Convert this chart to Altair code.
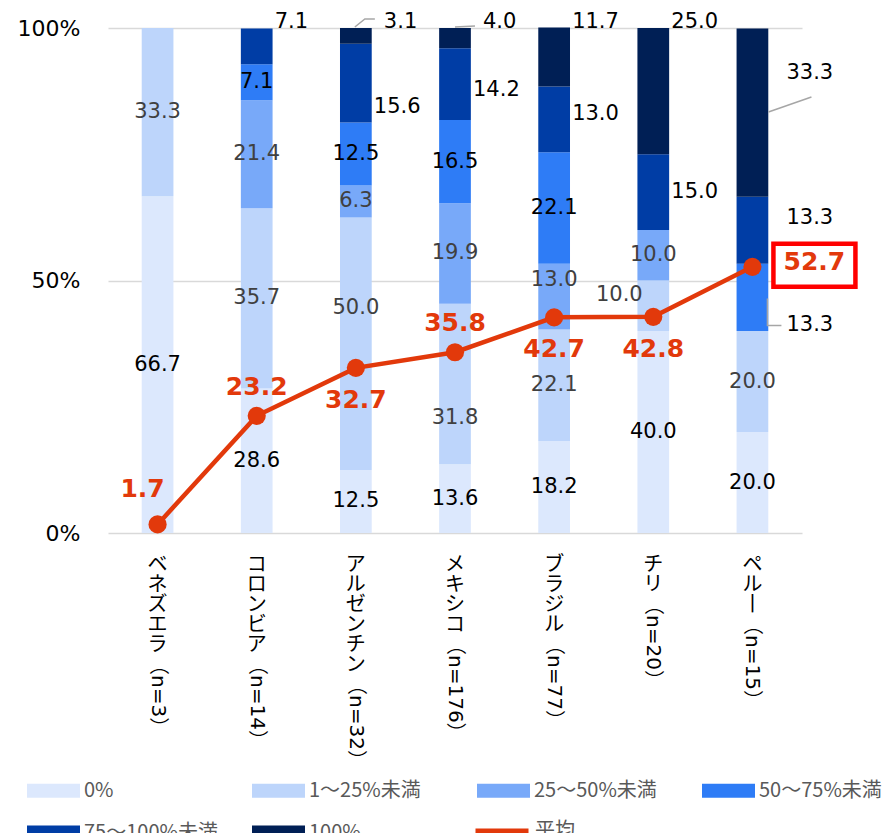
import altair as alt
import pandas as pd

# ---------------- data ----------------
countries = ["ベネズエラ", "コロンビア", "アルゼンチン", "メキシコ", "ブラジル", "チリ", "ペルー"]
n_resp = [3, 14, 32, 176, 77, 20, 15]
cats = ["0%", "1～25%未満", "25～50%未満", "50～75%未満", "75～100%未満", "100%"]
v_0 = [66.7, 28.6, 12.5, 13.6, 18.2, 40.0, 20.0]
v_1_25 = [33.3, 35.7, 50.0, 31.8, 22.1, 10.0, 20.0]
v_25_50 = [0.0, 21.4, 6.3, 19.9, 13.0, 10.0, 0.0]
v_50_75 = [0.0, 7.1, 12.5, 16.5, 22.1, 0.0, 13.3]
v_75_100 = [0.0, 7.1, 15.6, 14.2, 13.0, 15.0, 13.3]
v_100 = [0.0, 0.0, 3.1, 4.0, 11.7, 25.0, 33.3]
avg = [1.7, 23.2, 32.7, 35.8, 42.7, 42.8, 52.7]
avg_name = "平均"
series = [v_0, v_1_25, v_25_50, v_50_75, v_75_100, v_100]

# ---------------- styles / layout ----------------
colors = ["#DCE8FD", "#BDD5FB", "#78A9F9", "#2E7CF6", "#003DA5", "#001F55"]
RED = "#E2390B"
PLOT_W, PLOT_H = 694, 505
NUM_FONT = "DejaVu Sans"
JP_FONT = "Noto Sans CJK JP"
MIX_FONT = "DejaVu Sans, Noto Sans CJK JP"

# segment label placement (style only)
label_place = {
    ("チリ", "1～25%未満"): "left",
    ("アルゼンチン", "100%"): "right2",
    ("メキシコ", "100%"): "right2",
    ("ペルー", "50～75%未満"): "far",
    ("ペルー", "75～100%未満"): "far",
    ("ペルー", "100%"): "far",
}
keep_mid = {("ペルー", "100%")}
label_nudge_px = {  # positive = down
    ("アルゼンチン", "1～25%未満"): -36,
    ("メキシコ", "1～25%未満"): 34,
    ("ブラジル", "25～50%未満"): -17,
    ("チリ", "1～25%未満"): -11,
    ("アルゼンチン", "75～100%未満"): 24,
    ("メキシコ", "75～100%未満"): 6,
    ("ブラジル", "75～100%未満"): -5,
    ("ペルー", "100%"): -40,
    ("ペルー", "75～100%未満"): -12,
    ("ペルー", "50～75%未満"): 28,
}
place_dx = {"in": (0, "center"), "left": (-34, "center"), "right": (18, "left"),
            "right2": (28, "left"), "far": (34, "left")}
TOP_LIFT_PX = 6
avg_place = ["ul", "up", "down", "up", "down", "down", "box"]
avg_dxdy = {"ul": (-15, -35), "up": (0, -29), "down": (0, 32), "box": (62, -5)}

# ---------------- tables ----------------
bar_rows = []
lab_rows = []
for i, c in enumerate(countries):
    vals = [s[i] for s in series]
    top_j = max(j for j in range(len(cats)) if vals[j] > 0)
    cum = 0.0
    for j, cat in enumerate(cats):
        v = vals[j]
        bar_rows.append({"country": c, "cat": cat, "order": j, "value": v})
        if v <= 0:
            continue
        mid = cum + v / 2
        cum += v
        place = label_place.get((c, cat), "in" if j < 4 else "right")
        if j == top_j and j >= 4 and (c, cat) not in keep_mid:
            ypos = 100 + TOP_LIFT_PX * 100 / PLOT_H
        else:
            ypos = mid
        ypos -= label_nudge_px.get((c, cat), 0) * 100 / PLOT_H
        lab_rows.append({"country": c, "cat": cat, "value": v, "ypos": ypos,
                         "place": place,
                         "tcol": "#404040" if j in (1, 2) else "#000000"})
bars_df = pd.DataFrame(bar_rows)
lab_df = pd.DataFrame(lab_rows)

avg_df = pd.DataFrame({"country": countries, "avg": avg, "series": avg_name,
                       "place": avg_place})

kana_lh = 20
xl_rows = []
for c, n in zip(countries, n_resp):
    xl_rows.append({"country": c,
                    "kana": "\n".join(c.replace("ー", "丨")),
                    "npart": f"（n={n}）",
                    "ny": 527 + len(c) * kana_lh})
xl_df = pd.DataFrame(xl_rows)

# leader lines (anchored on data positions, shape is style)
peru = countries.index("ペルー")
leader_df = pd.DataFrame([
    {"country": "アルゼンチン", "y": 100.0, "path": "M-0.1,-0.1L0.9,-0.9H1.9"},
    {"country": "メキシコ", "y": 100.0, "path": "M0,-0.1L2,-0.2"},
    {"country": "ペルー", "y": 100 - v_100[peru] / 2, "path": "M1.6,0L5.9,-1.5"},
    {"country": "ペルー", "y": sum(s[peru] for s in series[:3]) + v_50_75[peru] / 2,
     "path": "M1.5,0.1V2.8H2.9"},
])

# ---------------- encodings ----------------
xscale = alt.Scale(domain=countries, paddingInner=0.68, paddingOuter=0.34)
X = alt.X("country:N", scale=xscale, sort=countries, axis=None)
yscale = alt.Scale(domain=[0, 100], nice=False, zero=True)

bars = alt.Chart(bars_df).mark_bar().encode(
    x=alt.X("country:N", scale=xscale, sort=countries,
            axis=alt.Axis(labels=False, ticks=False, domain=False, title=None, grid=False)),
    y=alt.Y("value:Q", stack="zero", scale=yscale,
            axis=alt.Axis(values=[0, 50, 100], labelExpr="datum.value + '%'", title=None,
                          ticks=False, tickSize=0, domain=False, grid=True,
                          gridColor="#D9D9D9", gridWidth=1.5, labelFontSize=22,
                          labelFont=NUM_FONT, labelColor="#000000", labelPadding=28)),
    color=alt.Color("cat:N", scale=alt.Scale(domain=cats, range=colors),
                    legend=alt.Legend(title=None, orient="none", legendX=-81, legendY=736,
                                      direction="horizontal", columns=4, gridAlign="all",
                                      symbolType="M-1,-0.26H1V0.26H-1Z", symbolSize=2809,
                                      symbolStrokeWidth=0, labelFontSize=20,
                                      labelFont=JP_FONT, labelColor="#595959",
                                      labelOffset=4, columnPadding=34, rowPadding=5,
                                      padding=0, labelLimit=300)),
    order=alt.Order("order:Q", sort="ascending"),
)

seg_layers = []
for place, (dx, align) in place_dx.items():
    seg_layers.append(
        alt.Chart(lab_df).transform_filter(alt.datum.place == place)
        .mark_text(dx=dx, align=align, baseline="middle", font=NUM_FONT, fontSize=21)
        .encode(x=X, y=alt.Y("ypos:Q", scale=yscale, axis=None),
                text=alt.Text("value:Q", format=".1f"),
                fill=alt.Fill("tcol:N", scale=None))
    )

line = alt.Chart(avg_df).mark_line(strokeWidth=4.5).encode(
    x=X, y=alt.Y("avg:Q", scale=yscale, axis=None),
    stroke=alt.Stroke("series:N", scale=alt.Scale(domain=[avg_name], range=[RED]),
                      legend=alt.Legend(title=None, orient="none", legendX=365, legendY=774,
                                        symbolType="stroke", symbolSize=2809,
                                        symbolStrokeWidth=5, labelFontSize=20,
                                        labelFont=JP_FONT, labelColor="#595959",
                                        labelOffset=4, padding=0)),
)
pts = alt.Chart(avg_df).mark_circle(size=330, color=RED, opacity=1).encode(
    x=X, y=alt.Y("avg:Q", scale=yscale, axis=None))

box = alt.Chart(avg_df).transform_filter(alt.datum.place == "box").mark_point(
    shape="M2.1,-2.3H10.3V2.0H2.1Z", size=400, filled=True, fill="#FFFFFF",
    stroke="#FF0000", strokeWidth=4.5, opacity=1).encode(
    x=X, y=alt.Y("avg:Q", scale=yscale, axis=None))

avg_layers = []
for place, (dx, dy) in avg_dxdy.items():
    avg_layers.append(
        alt.Chart(avg_df).transform_filter(alt.datum.place == place)
        .mark_text(dx=dx, dy=dy, align="center", baseline="middle", font=NUM_FONT,
                   fontSize=25, fontWeight="bold", color=RED)
        .encode(x=X, y=alt.Y("avg:Q", scale=yscale, axis=None),
                text=alt.Text("avg:Q", format=".1f"))
    )

leaders = alt.Chart(leader_df).mark_point(
    filled=False, stroke="#A6A6A6", strokeWidth=1.5, size=400, opacity=1).encode(
    x=X, y=alt.Y("y:Q", scale=yscale, axis=None),
    shape=alt.Shape("path:N", scale=None))

kana = alt.Chart(xl_df).mark_text(
    lineBreak="\n", lineHeight=kana_lh, align="center", baseline="top",
    font=JP_FONT, fontSize=20, color="#000000").encode(
    x=X, y=alt.value(527), text="kana:N")
npart = alt.Chart(xl_df).mark_text(
    angle=90, align="left", baseline="middle", font=MIX_FONT, fontSize=20,
    color="#000000").encode(
    x=X, y=alt.Y("ny:Q", scale=None, axis=None), text="npart:N")

chart = alt.layer(
    bars, *seg_layers, leaders, line, pts, box, *avg_layers, kana, npart
).resolve_scale(y="independent").properties(
    width=PLOT_W, height=PLOT_H,
    padding={"left": 100, "top": 20, "right": 82, "bottom": 325},
    autosize=alt.AutoSizeParams(type="none"),
).configure_view(stroke=None)

chart.save("out.html", embed_options={"renderer": "svg", "actions": False})
